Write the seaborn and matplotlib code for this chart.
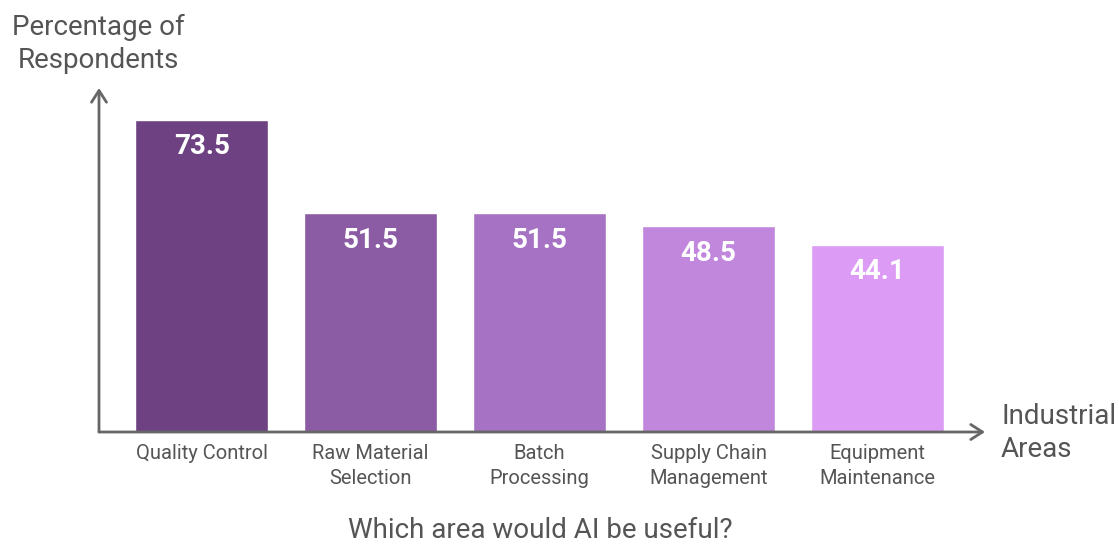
import matplotlib
matplotlib.use("Agg")
import matplotlib.pyplot as plt
import seaborn as sns
import pandas as pd

categories = ["Quality Control", "Raw Material\nSelection", "Batch\nProcessing",
              "Supply Chain\nManagement", "Equipment\nMaintenance"]
values = [73.5, 51.5, 51.5, 48.5, 44.1]
colors = ["#6e4282", "#8b5ba4", "#a672c4", "#c187dc", "#dc9cf6"]

df = pd.DataFrame({"area": categories, "pct": values})

sns.set_theme(style="white")
plt.rcParams["font.family"] = ["Roboto", "DejaVu Sans"]

fig = plt.figure(figsize=(11.19, 5.45), dpi=100)
ax = fig.add_axes([99/1119, 1-432/545, (985-99)/1119, (432-88)/545])

sns.barplot(data=df, x="area", y="pct", hue="area", palette=colors,
            width=0.787, legend=False, ax=ax, saturation=1)

ax.set_xlim(-0.607, 4.636)
ax.set_ylim(0, 81.0)
for s in ax.spines.values():
    s.set_visible(False)
ax.set_xticks([])
ax.set_yticks([])
ax.set_xlabel("")
ax.set_ylabel("")

gray = "#666666"
# axis arrows
ax.annotate("", xy=(1.0, 0), xytext=(0, 0), xycoords="axes fraction",
            arrowprops=dict(arrowstyle="->,head_length=0.7,head_width=0.45",
                            color=gray, lw=2.0, shrinkA=0, shrinkB=0))
ax.annotate("", xy=(0, 1.0), xytext=(0, 0), xycoords="axes fraction",
            arrowprops=dict(arrowstyle="->,head_length=0.7,head_width=0.45",
                            color=gray, lw=2.0, shrinkA=0, shrinkB=0))

# value labels
for i, v in enumerate(values):
    ax.annotate(f"{v}", xy=(i, v), xytext=(0, -27), textcoords="offset pixels",
                ha="center", va="center", color="white", fontsize=20,
                fontweight="bold")

# category labels
for i, c in enumerate(categories):
    ax.annotate(c, xy=(i, 0), xytext=(0, -12), textcoords="offset pixels",
                ha="center", va="top", color="#555555", fontsize=14.5,
                linespacing=1.38)

fig.text(98/1119, 1-44/545, "Percentage of\nRespondents", ha="center", va="center",
         fontsize=20, color="#555555", linespacing=1.3, multialignment="center")
fig.text(1001/1119, 1-433/545, "Industrial\nAreas", ha="left", va="center",
         fontsize=20, color="#555555", linespacing=1.3)
fig.text(540/1119, 1-530/545, "Which area would AI be useful?", ha="center",
         va="center", fontsize=20, color="#555555")

fig.savefig("out.png", dpi=100, facecolor="white")
